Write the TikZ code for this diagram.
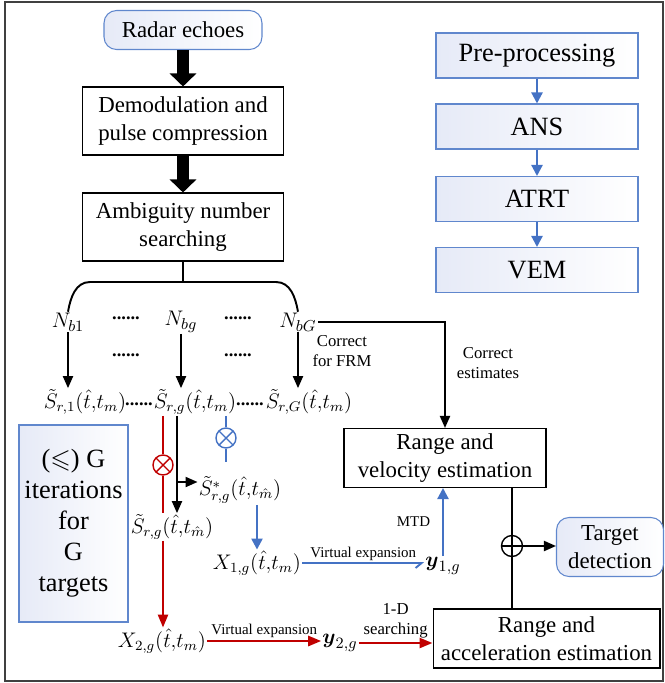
\documentclass[tikz,border=0pt]{standalone}
\usepackage{amsmath,amssymb}
\usepackage{fontspec}
\setmainfont{Liberation Serif}
\usetikzlibrary{arrows.meta,positioning,calc}

\definecolor{flowblue}{RGB}{68,114,196}
\definecolor{flowred}{RGB}{192,0,0}
\definecolor{framegray}{RGB}{64,64,64}
\definecolor{shadeblue}{RGB}{230,234,247}

\begin{document}
\begin{tikzpicture}[x=0.02cm,y=-0.02cm,
    box/.style={draw,line width=0.6pt,align=center,inner sep=2pt,font=\fontsize{13}{16}\selectfont},
    bluebox/.style={draw=flowblue!85,line width=0.6pt,left color=shadeblue,right color=white,align=center,inner sep=2pt},
    note/.style={text=black,font=\fontsize{9.5}{11.5}\selectfont,align=center,inner sep=1pt},
    small/.style={note,font=\fontsize{8.5}{10}\selectfont},
    eq/.style={font=\fontsize{11.5}{14}\selectfont,inner sep=0.5pt},
    dotrow/.style={font=\fontsize{10.5}{13}\selectfont\bfseries,inner sep=0pt},
    bigarrow/.style={line width=0.25cm,-{Triangle[width=0.52cm,length=0.26cm]}},
    arr/.style={line width=1.1pt,-{Triangle[width=0.2cm,length=0.24cm]}},
    bluearr/.style={flowblue,line width=1.3pt,-{Triangle[width=0.22cm,length=0.22cm]}},
    redarr/.style={flowred,line width=1.4pt,-{Triangle[width=0.2cm,length=0.26cm]}},
    otimes/.style={circle,draw=#1,line width=0.8pt,minimum size=0.4cm,inner sep=0pt,fill=white,
        path picture={\draw[#1,line width=0.8pt]
            (path picture bounding box.south west) -- (path picture bounding box.north east)
            (path picture bounding box.north west) -- (path picture bounding box.south east);}}
]
\useasboundingbox (0,0) rectangle (665,683);
\draw[framegray,line width=1.2pt] (5,2) rectangle (663,681);

% main processing chain
\node[box,draw=flowblue!85,left color=shadeblue,right color=white,rounded corners=0.25cm,
      minimum width=3.16cm,minimum height=0.78cm] (radar) at (183,30) {Radar echoes};
\node[box,minimum width=4.02cm,minimum height=1.36cm] (demod) at (183,121) {Demodulation and\\pulse compression};
\node[box,minimum width=4.02cm,minimum height=1.36cm] (ambig) at (183,227) {Ambiguity number\\searching};
\draw[bigarrow] (radar) -- (demod);
\draw[bigarrow] (demod) -- (ambig);

% ambiguity numbers
\node[eq,font=\fontsize{12.5}{14}\selectfont] (Nb1) at (68,322) {$N_{b1}$};
\node[eq,font=\fontsize{12.5}{14}\selectfont] (Nbg) at (181,322) {$N_{bg}$};
\node[eq,font=\fontsize{12.5}{14}\selectfont] (NbG) at (298,322) {$N_{bG}$};
\foreach \x/\y in {126/318,238/318,126/355,238/355}
    \node[dotrow] at (\x,\y) {......};

\coordinate (fork) at (183,282);
\draw[line width=1.1pt] (ambig.south) -- (fork);
\draw[line width=1.1pt] (Nb1.north) to[out=80,in=180] ($(Nb1.north |- fork)+(22,0)$)
    -- ($(NbG.north |- fork)+(-22,0)$) to[out=0,in=100] (NbG.north);

% corrected signals
\node[eq] (S1) at (85,402) {$\tilde{S}_{r,1}(\hat{t}{,}t_m)$};
\node[eq] (Sg) at (195,402) {$\tilde{S}_{r,g}(\hat{t}{,}t_m)$};
\node[eq] (SG) at (309,402) {$\tilde{S}_{r,G}(\hat{t}{,}t_m)$};
\node[dotrow] at (139,404) {......};
\node[dotrow] at (250,404) {......};
\draw[arr] (Nb1) -- (Nb1 |- S1.north);
\draw[arr] (Nbg) -- (Nbg |- Sg.north);
\draw[arr] (NbG) -- (NbG |- SG.north);
\node[note] at (342,351) {Correct\\for FRM};

% estimators
\node[box,minimum width=4.04cm,minimum height=1.18cm] (rv) at (445,458) {Range and\\velocity estimation};
\node[box,minimum width=4.54cm,minimum height=1.18cm] (ra) at (546.5,638.5) {Range and\\acceleration estimation};
\node[box,draw=flowblue!85,left color=shadeblue,right color=white,rounded corners=0.25cm,
      minimum width=2.14cm,minimum height=1.18cm] (td) at (610,547) {Target\\detection};
\draw[arr] (NbG.east) -| (rv.north);
\node[note] at (488,363) {Correct\\estimates};

% iteration box
\node[bluebox,minimum width=2.18cm,minimum height=3.94cm,font=\fontsize{15}{17.6}\selectfont]
    (iter) at (73.5,523.5) {($\leqslant$) G\\iterations\\for\\G\\targets};

% flow of the method
\foreach \name/\txt/\y in {pre/Pre-processing/55.5,ans/ANS/126.5,atrt/ATRT/199,vem/VEM/270}
    \node[bluebox,minimum width=4.04cm,minimum height=0.9cm,font=\fontsize{15}{18}\selectfont]
        (\name) at (537,\y) {\txt};
\foreach \a/\b in {pre/ans,ans/atrt,atrt/vem}
    \draw[bluearr] (\a) -- (\b);

% per target processing
\node[eq] (Sstar) at (240,490) {$\tilde{S}^{*}_{r,g}(\hat{t}{,}t_{\hat{m}})$};
\node[eq] (Sgm) at (172,527) {$\tilde{S}_{r,g}(\hat{t}{,}t_{\hat{m}})$};
\node[eq] (X1) at (257,563) {$X_{1,g}(\hat{t}{,}t_m)$};
\node[eq,font=\fontsize{12.5}{14}\selectfont] (y1) at (443,566) {$\boldsymbol{y}_{1,g}$};
\node[eq] (X2) at (162,641) {$X_{2,g}(\hat{t}{,}t_m)$};
\node[eq,font=\fontsize{12.5}{14}\selectfont] (y2) at (340,643) {$\boldsymbol{y}_{2,g}$};

\coordinate (bk) at (177,482);
\draw[arr] (Sg.south -| bk) -- (Sgm.north -| bk);
\draw[arr] (bk) -- (bk -| Sstar.west);

\node[otimes=flowred] (rcross) at (163,465) {};
\draw[flowred,line width=1.4pt] (Sg.south -| rcross) -- (rcross) -- (Sgm.north -| rcross);
\draw[redarr] (Sgm.south -| rcross) -- (X2.north -| rcross);

\node[otimes=flowblue] (bcross) at (226,438) {};
\coordinate (bend) at (226,462);
\draw[flowblue,line width=1.1pt] (Sg.south -| bcross) -- (bcross) -- (bend);
\draw[bluearr] (Sstar.south -| X1) -- (X1);

\draw[flowblue,line width=1.1pt,-{Straight Barb[right,length=0.12cm,width=0.2cm]}]
    (X1.east) -- (X1.east -| y1.west) node[midway,above,small] {Virtual expansion};
\draw[bluearr] (y1.north) -- (y1.north |- rv.south) node[midway,left=0.2cm,small] {MTD};

\draw[redarr] (X2.east) -- (X2.east -| y2.west) node[midway,above,small] {Virtual expansion};
\draw[redarr] (y2.east) -- (y2.east -| ra.west) node[midway,above=1pt,note] {1-D\\searching};

% combining both estimates
\node[circle,draw,line width=0.8pt,minimum size=0.42cm,inner sep=0pt] (oplus) at (512,546) {};
\draw[line width=1.1pt] (rv.south -| oplus) -- (ra.north -| oplus);
\draw[line width=0.8pt] (oplus.west) -- (oplus.east);
\draw[arr] (oplus.east) -- (oplus.east -| td.west);
\end{tikzpicture}
\end{document}
